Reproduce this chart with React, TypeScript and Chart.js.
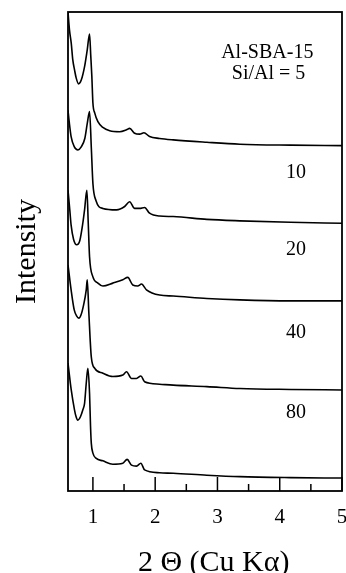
import React, { useEffect, useRef } from "react";
import { Chart, registerables } from "chart.js";

Chart.register(...registerables);

// 2θ (degrees) and intensity (arbitrary units, stacked) for each Si/Al ratio
const angle5 = [0.6, 0.624, 0.652, 0.677, 0.705, 0.732, 0.769, 0.813, 0.866, 0.909, 0.946, 0.965, 0.983, 1.0, 1.03, 1.08, 1.16, 1.27, 1.43, 1.54, 1.59, 1.67, 1.75, 1.82, 1.91, 2.07, 2.29, 2.83, 3.36, 4.17, 5.0];
const counts5 = [100, 96.2, 93.5, 90.0, 87.9, 86.2, 85.0, 85.8, 88.6, 92.1, 95.4, 91.0, 86.5, 81.0, 78.9, 77.1, 75.9, 75.2, 75.0, 75.4, 75.7, 74.7, 74.5, 74.8, 74.0, 73.6, 73.3, 72.8, 72.4, 72.2, 72.1];

const angle10 = [0.6, 0.62, 0.65, 0.7, 0.76, 0.81, 0.87, 0.91, 0.946, 0.975, 1.0, 1.05, 1.16, 1.38, 1.51, 1.59, 1.67, 1.75, 1.83, 1.91, 2.07, 2.29, 2.83, 3.36, 4.17, 5.0];
const counts10 = [79.5, 77.0, 74.0, 71.9, 71.2, 71.8, 73.6, 76.8, 79.2, 71.5, 64.2, 60.6, 59.0, 58.7, 59.4, 60.4, 59.0, 59.0, 59.2, 58.0, 57.4, 57.3, 56.7, 56.4, 56.1, 55.9];

const angle20 = [0.6, 0.63, 0.65, 0.69, 0.74, 0.79, 0.838, 0.866, 0.903, 0.925, 0.946, 1.0, 1.08, 1.16, 1.32, 1.48, 1.56, 1.64, 1.72, 1.78, 1.86, 2.07, 2.29, 2.83, 3.36, 4.17, 5.0];
const counts20 = [62.8, 58.5, 55.5, 52.5, 51.4, 52.3, 55.9, 58.7, 62.8, 56.0, 48.9, 44.7, 43.4, 42.8, 43.4, 44.1, 44.6, 43.0, 42.8, 43.2, 42.0, 40.9, 40.7, 40.2, 39.9, 39.7, 39.7];

const angle40 = [0.6, 0.65, 0.7, 0.74, 0.774, 0.81, 0.85, 0.893, 0.909, 0.935, 0.974, 1.03, 1.16, 1.32, 1.48, 1.54, 1.62, 1.7, 1.77, 1.83, 2.07, 2.29, 2.83, 3.36, 4.17, 5.0];
const counts40 = [47.2, 42.0, 37.8, 36.5, 36.1, 36.8, 38.8, 42.0, 44.1, 37.1, 28.0, 25.6, 24.6, 23.9, 24.2, 24.9, 23.5, 23.5, 24.0, 22.8, 22.3, 22.1, 21.8, 21.4, 21.2, 21.1];

const angle80 = [0.6, 0.652, 0.705, 0.73, 0.758, 0.8, 0.84, 0.866, 0.893, 0.919, 0.946, 0.962, 0.974, 1.0, 1.054, 1.16, 1.32, 1.48, 1.55, 1.62, 1.7, 1.77, 1.83, 2.07, 2.29, 2.83, 3.36, 4.17, 5.0];
const counts80 = [26.7, 21.1, 16.9, 15.5, 14.8, 15.5, 17.0, 18.3, 22.5, 25.6, 20.4, 13.4, 10.0, 7.9, 6.8, 6.3, 5.6, 5.8, 6.6, 5.4, 5.2, 5.8, 4.4, 3.8, 3.7, 3.3, 3.0, 2.8, 2.7];

const xTickLabels = [1, 2, 3, 4, 5];
const xMinorTicks = [1.5, 2.5, 3.5, 4.5];

// Sample labels: [text, 2θ position, intensity position]
const sampleLabels: [string, number, number][] = [
  ["Al-SBA-15", 3.8, 91.4],
  ["Si/Al = 5", 3.82, 87.1],
  ["10", 4.26, 66.4],
  ["20", 4.26, 50.4],
  ["40", 4.26, 33.0],
  ["80", 4.26, 16.3],
];

const xTitle = "2 Θ (Cu Kα)";
const xTitleCenter = 2.94; // 2θ value under the middle of the axis title

const SERIF = "'Liberation Serif', 'Times New Roman', serif";

const toPoints = (xs: number[], ys: number[]) => xs.map((x, i) => ({ x, y: ys[i] }));

const framePlugin = {
  id: "frameAndMarks",
  afterDraw(chart: any) {
    const { ctx, chartArea } = chart;
    const xs = chart.scales.x;
    const ys = chart.scales.y;
    ctx.save();
    ctx.strokeStyle = "#000";
    ctx.lineWidth = 1.8;
    ctx.strokeRect(chartArea.left, chartArea.top, chartArea.right - chartArea.left, chartArea.bottom - chartArea.top);
    ctx.lineWidth = 1.5;
    const drawTick = (v: number, len: number) => {
      const px = xs.getPixelForValue(v);
      ctx.beginPath();
      ctx.moveTo(px, chartArea.bottom);
      ctx.lineTo(px, chartArea.bottom - len);
      ctx.stroke();
    };
    xTickLabels.forEach((v) => drawTick(v, 14));
    xMinorTicks.forEach((v) => drawTick(v, 7));
    ctx.fillStyle = "#000";
    ctx.font = `20px ${SERIF}`;
    ctx.textAlign = "center";
    ctx.textBaseline = "middle";
    sampleLabels.forEach(([t, x, y]) => {
      ctx.fillText(t, xs.getPixelForValue(x), ys.getPixelForValue(y));
    });
    ctx.font = `30px ${SERIF}`;
    ctx.textBaseline = "alphabetic";
    ctx.fillText(xTitle, xs.getPixelForValue(xTitleCenter), chartArea.bottom + 80);
    ctx.restore();
  },
};

export default function App() {
  const canvasRef = useRef<HTMLCanvasElement | null>(null);

  useEffect(() => {
    if (!canvasRef.current) return;
    const line = (xs: number[], ys: number[]) => ({
      data: toPoints(xs, ys),
      borderColor: "#000",
      borderWidth: 1.6,
      pointRadius: 0,
      fill: false,
      cubicInterpolationMode: "monotone" as const,
    });
    const chart = new Chart(canvasRef.current, {
      type: "line",
      data: {
        datasets: [
          line(angle5, counts5),
          line(angle10, counts10),
          line(angle20, counts20),
          line(angle40, counts40),
          line(angle80, counts80),
        ],
      },
      options: {
        animation: false,
        responsive: false,
        devicePixelRatio: 1,
        layout: { padding: { top: 12, right: 4, left: 0, bottom: 0 } },
        plugins: { legend: { display: false }, tooltip: { enabled: false } },
        scales: {
          x: {
            type: "linear",
            min: 0.6,
            max: 5,
            grid: { display: false, drawTicks: false },
            border: { display: false },
            afterBuildTicks: (scale: any) => {
              scale.ticks = xTickLabels.map((v) => ({ value: v }));
            },
            afterFit: (scale: any) => {
              scale.height = 82;
              scale.paddingRight = 0;
            },
            ticks: {
              color: "#000",
              padding: 0,
              maxRotation: 0,
              autoSkip: false,
              font: { family: SERIF, size: 21, lineHeight: 2.48 },
            },
          },
          y: {
            type: "linear",
            min: 0,
            max: 100,
            grid: { display: false, drawTicks: false },
            border: { display: false },
            ticks: { display: false },
            afterFit: (scale: any) => {
              scale.width = 68;
            },
            title: {
              display: true,
              text: "Intensity",
              color: "#000",
              padding: { top: 9, bottom: 0 },
              font: { family: SERIF, size: 30, lineHeight: 1.2 },
            },
          },
        },
      },
      plugins: [framePlugin],
    });
    return () => chart.destroy();
  }, []);

  return (
    <div style={{ position: "fixed", left: 0, top: 0, width: 346, height: 573, background: "#fff" }}>
      <canvas ref={canvasRef} width={346} height={573} />
    </div>
  );
}
